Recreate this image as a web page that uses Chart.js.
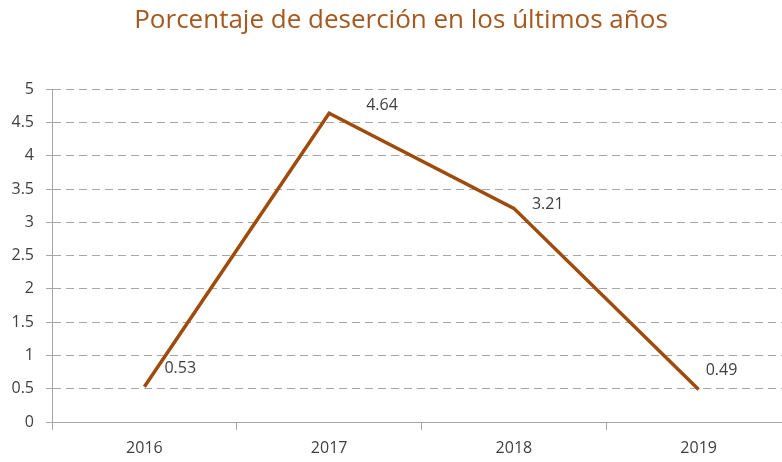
<!DOCTYPE html>
<html>
<head>
  <title>Porcentaje de deserción</title>
  <script src="https://cdn.jsdelivr.net/npm/chart.js"></script>
  <style>
    body {
      margin: 0;
      background-color: white;
      overflow: hidden;
    }
    .chart-container {
      width: 791px;
      height: 462px;
    }
  </style>
</head>
<body>
  <div class="chart-container">
    <canvas id="desercionChart" width="791" height="462"></canvas>
  </div>

  <script>
    // Data
    const years = ["2016", "2017", "2018", "2019"];
    const desercion = [0.53, 4.64, 3.21, 0.49];
    const yTicks = [0, 0.5, 1, 1.5, 2, 2.5, 3, 3.5, 4, 4.5, 5];

    // Label placement relative to each point (style only)
    const labelOffsets = [[20, -18], [37, -8], [18, -4], [7, -19]];

    const lineColor = "#9E4B0B";
    const gridColor = "#A6A6A6";
    const textColor = "#404040";
    const fontFamily = '"Open Sans", "DejaVu Sans", sans-serif';

    // Draw the value labels next to the points
    const valueLabels = {
      id: 'valueLabels',
      afterDatasetsDraw(chart) {
        const ctx = chart.ctx;
        const meta = chart.getDatasetMeta(0);
        ctx.save();
        ctx.font = '16px ' + fontFamily;
        ctx.fillStyle = textColor;
        ctx.textAlign = 'left';
        ctx.textBaseline = 'middle';
        meta.data.forEach((pt, i) => {
          const off = labelOffsets[i];
          ctx.fillText(String(desercion[i]), pt.x + off[0], pt.y + off[1]);
        });
        ctx.restore();
      }
    };

    const ctx = document.getElementById('desercionChart').getContext('2d');

    new Chart(ctx, {
      type: 'line',
      data: {
        labels: years,
        datasets: [{
          label: 'Deserción',
          data: desercion,
          borderColor: lineColor,
          backgroundColor: lineColor,
          borderWidth: 3.5,
          pointRadius: 0,
          tension: 0
        }]
      },
      options: {
        responsive: false,
        animation: false,
        locale: 'en-US',
        layout: {
          padding: { left: 11, right: 0, top: 0, bottom: 0 }
        },
        scales: {
          x: {
            offset: true,
            grid: {
              offset: true,
              drawOnChartArea: false,
              drawTicks: true,
              tickLength: 8,
              color: gridColor
            },
            border: { display: true, color: gridColor, width: 1 },
            ticks: {
              color: textColor,
              padding: 9,
              font: { family: fontFamily, size: 16 }
            },
            afterFit(scale) { scale.height = 40; }
          },
          y: {
            min: 0,
            max: 5,
            afterBuildTicks(scale) {
              scale.ticks = yTicks.map(v => ({ value: v }));
            },
            grid: {
              color: gridColor,
              tickLength: 6,
              tickColor: gridColor
            },
            border: { display: true, color: gridColor, width: 1, dash: [8, 5] },
            ticks: {
              color: textColor,
              padding: 12,
              font: { family: fontFamily, size: 16 },
              callback: (value) => String(value)
            },
            afterFit(scale) { scale.width = 41; }
          }
        },
        plugins: {
          legend: { display: false },
          tooltip: { enabled: false },
          title: {
            display: true,
            text: 'Porcentaje de deserción en los últimos años',
            color: '#A5581F',
            font: { family: fontFamily, size: 26, weight: 'normal' },
            padding: { top: 5, bottom: 53 }
          }
        }
      },
      plugins: [valueLabels]
    });
  </script>
</body>
</html>
